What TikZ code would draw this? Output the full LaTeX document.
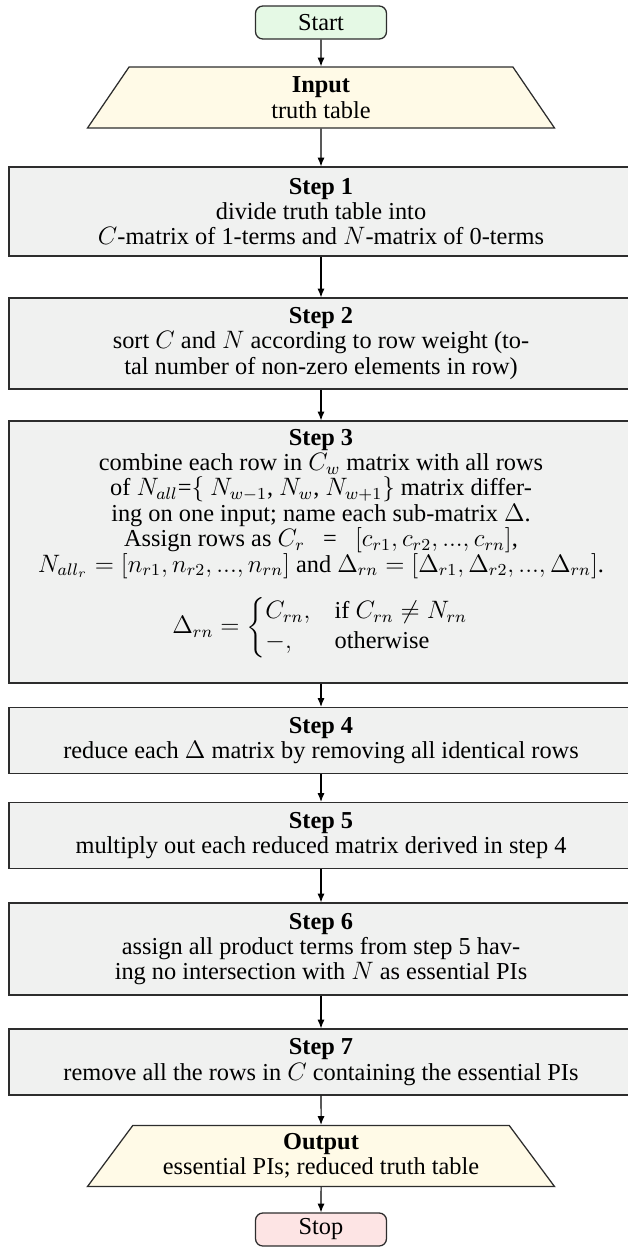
\documentclass[tikz,border=0pt]{standalone}
\usepackage{amsmath}
\usepackage{fontspec}
\setmainfont{Liberation Serif}
\usetikzlibrary{shapes.geometric,arrows.meta}
\definecolor{startc}{RGB}{229,249,229}
\definecolor{stopc}{RGB}{253,228,228}
\definecolor{ioc}{RGB}{255,250,231}
\definecolor{stepc}{RGB}{240,241,240}
\definecolor{linec}{RGB}{45,45,45}
\newcommand\myfont{\fontsize{11.6}{12.1}\selectfont\lineskiplimit=-4pt\relax}
\begin{document}
\begin{tikzpicture}[x=0.4765pt,y=-0.4765pt,
  every node/.style={font=\myfont, align=center, inner sep=0pt},
  term/.style={draw=linec, line width=0.6pt, rounded corners=3.5pt, minimum width=131*0.4765pt, minimum height=33*0.4765pt},
  iobox/.style={draw=linec, line width=0.6pt, fill=ioc, trapezium, trapezium stretches body=true, trapezium left angle=45, trapezium right angle=45, minimum width=467*0.4765pt},
  stepbox/.style={draw=linec, line width=0.6pt, fill=stepc, minimum width=624*0.4765pt},
  flow/.style={draw=black, line width=0.5pt, -{Latex[length=4.2pt,width=3.4pt]}}
]
\useasboundingbox (0,0) rectangle (628,1249);
\node[term, fill=startc] (start) at (321,22.5) {Start};
\node[iobox, minimum height=61*0.4765pt] (in) at (321,97.5) {\textbf{Input}\\truth table};
\node[stepbox, minimum height=89*0.4765pt] (s1) at (321,211.5) {\textbf{Step 1}\\divide truth table into\\$C$-matrix of 1-terms and $N$-matrix of 0-terms};
\node[stepbox, minimum height=91*0.4765pt] (s2) at (321,343.5) {\textbf{Step 2}\\sort $C$ and $N$ according to row weight (to-\\tal number of non-zero elements in row)};
\node[stepbox, minimum height=262*0.4765pt] (s3) at (321,552) {\textbf{Step 3}\\combine each row in $C_w$ matrix with all rows\\of $N_{all}$=$\{$~$N_{w-1}$, $N_w$, $N_{w+1}\}$ matrix differ-\\ing on one input; name each sub-matrix $\Delta$.\\Assign rows as $C_r$ \ \ = \ \ $[c_{r1}, c_{r2}, ..., c_{rn}]$,\\$N_{all_r} = [n_{r1}, n_{r2}, ..., n_{rn}]$ and $\Delta_{rn} = [\Delta_{r1}, \Delta_{r2}, ..., \Delta_{rn}]$.\\[8pt]$\displaystyle\Delta_{rn} = \begin{cases} C_{rn}, & \text{if } C_{rn}\neq N_{rn}\\ -, & \text{otherwise}\end{cases}$\\[7.5pt]\mbox{}};
\node[stepbox, minimum height=66*0.4765pt] (s4) at (321,740.5) {\textbf{Step 4}\\reduce each $\Delta$ matrix by removing all identical rows};
\node[stepbox, minimum height=66*0.4765pt] (s5) at (321,835.5) {\textbf{Step 5}\\multiply out each reduced matrix derived in step 4};
\node[stepbox, minimum height=92*0.4765pt] (s6) at (321,949) {\textbf{Step 6}\\assign all product terms from step 5 hav-\\ing no intersection with $N$ as essential PIs};
\node[stepbox, minimum height=66*0.4765pt] (s7) at (321,1062) {\textbf{Step 7}\\remove all the rows in $C$ containing the essential PIs};
\node[iobox, minimum height=61*0.4765pt] (out) at (321,1156) {\textbf{Output}\\essential PIs; reduced truth table};
\node[term, fill=stopc] (stop) at (321,1229.5) {Stop};
\draw[flow] (start) -- (in);
\draw[flow] (in) -- (s1);
\draw[flow] (s1) -- (s2);
\draw[flow] (s2) -- (s3);
\draw[flow] (s3) -- (s4);
\draw[flow] (s4) -- (s5);
\draw[flow] (s5) -- (s6);
\draw[flow] (s6) -- (s7);
\draw[flow] (s7) -- (out);
\draw[flow] (out) -- (stop);
\end{tikzpicture}
\end{document}
